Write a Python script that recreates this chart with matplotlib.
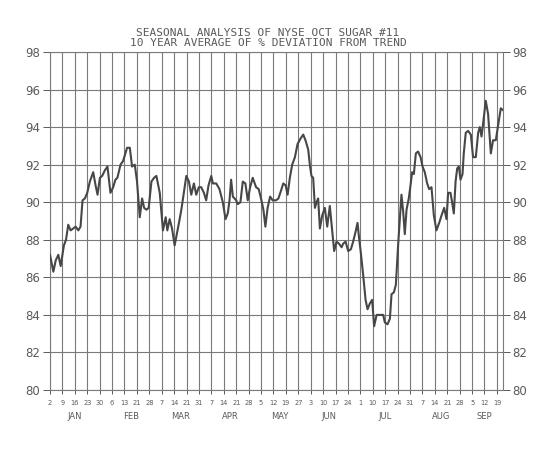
import numpy as np
import matplotlib
matplotlib.use("Agg")
import matplotlib.pyplot as plt

# week offsets from the Jan 2 tick, and % deviation from trend
weeks = [0.0, 0.27, 0.46, 0.67, 0.86, 1.12, 1.29, 1.47, 1.66, 1.87, 2.06, 2.28, 2.46,
         2.62, 2.81, 3.0, 3.21, 3.48, 3.67, 3.83, 4.02, 4.2, 4.42, 4.63, 4.87, 5.09,
         5.27, 5.43, 5.68, 5.89, 6.21, 6.43, 6.61, 6.83, 7.01, 7.23, 7.42, 7.58, 7.77,
         7.95, 8.17, 8.38, 8.57, 8.84, 9.1, 9.32, 9.45, 9.64, 9.83, 10.04, 10.36, 10.58,
         10.76, 10.98, 11.19, 11.38, 11.59, 11.78, 11.99, 12.18, 12.4, 12.58, 12.77,
         12.99, 13.12, 13.39, 13.65, 13.92, 14.14, 14.32, 14.46, 14.59, 14.73, 15.0,
         15.12, 15.34, 15.53, 15.74, 15.93, 16.12, 16.33, 16.6, 16.81, 17.0, 17.19,
         17.35, 17.53, 17.73, 17.94, 18.2, 18.4, 18.6, 18.79, 18.98, 19.14, 19.32,
         19.51, 19.73, 19.94, 20.19, 20.4, 20.58, 20.8, 20.93, 21.06, 21.2, 21.34,
         21.47, 21.6, 21.74, 21.93, 22.14, 22.33, 22.54, 22.73, 22.89, 23.08, 23.27,
         23.49, 23.62, 23.81, 24.02, 24.24, 24.42, 24.64, 24.77, 24.88, 25.04, 25.23,
         25.42, 25.58, 25.76, 25.95, 26.11, 26.31, 26.49, 26.65, 26.84, 26.97, 27.19,
         27.38, 27.51, 27.7, 27.86, 28.04, 28.18, 28.31, 28.45, 28.58, 28.72, 28.9,
         29.04, 29.17, 29.31, 29.47, 29.65, 29.85, 30.01, 30.19, 30.38, 30.54, 30.73,
         30.92, 31.13, 31.35, 31.54, 31.75, 31.94, 32.07, 32.26, 32.39, 32.53, 32.67,
         32.8, 32.93, 33.07, 33.23, 33.33, 33.49, 33.68, 33.9, 34.08, 34.3, 34.49,
         34.62, 34.76, 34.89, 35.1, 35.29, 35.51, 35.69, 35.91, 36.1, 36.31, 36.5]
deviation = [87.2, 86.3, 86.9, 87.2, 86.6, 87.7, 88.0, 88.8, 88.5, 88.6, 88.7, 88.5, 88.7,
             90.1, 90.2, 90.5, 91.1, 91.6, 90.9, 90.4, 91.3, 91.4, 91.7, 91.9, 90.5, 90.8,
             91.2, 91.3, 92.0, 92.2, 92.9, 92.9, 91.9, 92.0, 91.1, 89.2, 90.2, 89.7, 89.6,
             89.7, 91.1, 91.3, 91.4, 90.5, 88.5, 89.2, 88.5, 89.1, 88.6, 87.7, 88.8, 89.6,
             90.4, 91.4, 91.1, 90.4, 91.0, 90.4, 90.8, 90.8, 90.5, 90.1, 90.9,
             91.4, 91.0, 91.0, 90.7, 90.0, 89.1, 89.4, 90.1, 91.2, 90.3, 90.1,
             89.9, 90.0, 91.1, 91.0, 90.1, 90.8, 91.3, 90.8, 90.7, 90.2, 89.6,
             88.7, 89.7, 90.3, 90.1, 90.1, 90.2, 90.6, 91.0, 90.9, 90.4, 91.3,
             92.0, 92.4, 93.1, 93.4, 93.6, 93.3, 92.8, 92.0, 91.4, 91.3, 89.7,
             90.0, 90.2, 88.6, 89.3, 89.7, 88.7, 89.8, 88.5, 87.4, 87.9, 87.8,
             87.6, 87.8, 87.9, 87.4, 87.5, 87.9, 88.5, 88.9, 88.2, 87.3, 86.1,
             84.8, 84.3, 84.6, 84.8, 83.4, 84.0, 84.0, 84.0, 84.0, 83.6, 83.5,
             83.8, 85.1, 85.2, 85.6, 87.7, 89.1, 90.4, 89.5, 88.3, 89.6, 90.2,
             90.9, 91.6, 91.5, 92.6, 92.7, 92.4, 91.9, 91.6, 91.0, 90.7, 90.8,
             89.3, 88.5, 88.9, 89.3, 89.7, 89.1, 90.5, 90.5, 90.0, 89.4, 91.1,
             91.8, 91.9, 91.2, 91.5, 92.6, 93.7, 93.8, 93.6, 92.4, 92.4, 93.7,
             94.0, 93.5, 94.2, 95.4, 94.7, 92.6, 93.3, 93.3, 94.1, 95.0, 94.9]

tick_days = ["2", "9", "16", "23", "30", "6", "13", "21", "28", "7", "14", "21", "31",
             "7", "14", "21", "28", "5", "12", "19", "27", "3", "10", "17", "24",
             "1", "10", "17", "24", "31", "7", "14", "21", "28", "5", "12", "19"]
months = ["JAN", "FEB", "MAR", "APR", "MAY", "JUN", "JUL", "AUG", "SEP"]
ticks_per_month = [5, 4, 4, 4, 4, 4, 5, 4, 3]

title = ("SEASONAL ANALYSIS OF NYSE OCT SUGAR #11\n"
         "10 YEAR AVERAGE OF % DEVIATION FROM TREND")

ink = "#5a5a5a"
grid_col = "#7a7a7a"

fig = plt.figure(figsize=(5.48, 4.5), dpi=100)
ax = fig.add_axes([50 / 548, 1 - 390 / 450, 452.5 / 548, 338 / 450])

ax.plot(weeks, deviation, color="#474747", lw=1.5, zorder=3)

ax.set_xlim(0, 36.45)
ax.set_ylim(80, 98)
ax.set_xticks(np.arange(len(tick_days)))
ax.set_xticklabels(tick_days, fontsize=4.8, color=ink)
ax.set_yticks(np.arange(80, 99, 2))
ax.tick_params(axis="y", labelsize=8.5, colors=ink, length=5, width=0.7,
               left=True, right=True, labelleft=True, labelright=True, pad=2)
ax.tick_params(axis="x", colors=ink, length=3, width=0.7, pad=4)
ax.grid(True, color=grid_col, lw=0.8)
for s in ax.spines.values():
    s.set_color(grid_col)
    s.set_linewidth(0.8)

# month names under the day ticks
start = 0
for m, n in zip(months, ticks_per_month):
    centre = start + (n - 1) / 2
    ax.text(centre, -0.065, m, transform=ax.get_xaxis_transform(),
            ha="center", va="top", fontsize=6, color=ink)
    start += n

fig.text(268 / 548, 1 - 38 / 450, title, ha="center", va="center",
         multialignment="center", linespacing=0.95,
         fontsize=8.0, family="DejaVu Sans Mono", color=ink)

fig.savefig("out.png", dpi=100, facecolor="white")
